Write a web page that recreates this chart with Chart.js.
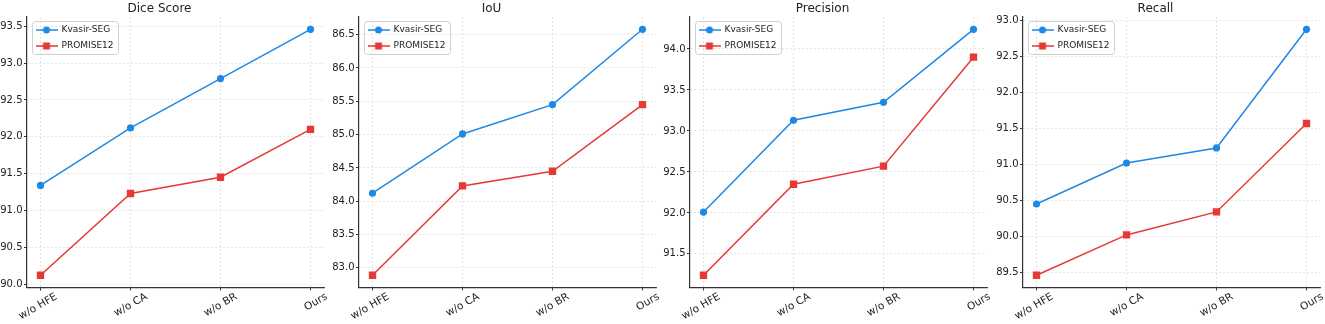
<!DOCTYPE html>
<html>
<head>
<meta charset="utf-8">
<script src="https://cdn.jsdelivr.net/npm/chart.js@4.4.1/dist/chart.umd.min.js"></script>
<style>
  html, body { margin: 0; padding: 0; background: #fff; overflow: hidden; }
  #wrap { position: relative; width: 1325px; height: 324px; }
  canvas { position: absolute; top: 0; }
</style>
</head>
<body>
<div id="wrap"></div>
<script>
const categories = ['w/o HFE', 'w/o CA', 'w/o BR', 'Ours'];
const seriesNames = ['Kvasir-SEG', 'PROMISE12'];
const titles = ['Dice Score', 'IoU', 'Precision', 'Recall'];

const kvasirDice = [91.34, 92.12, 92.79, 93.46];
const promiseDice = [90.12, 91.23, 91.45, 92.10];
const kvasirIoU = [84.12, 85.01, 85.45, 86.58];
const promiseIoU = [82.89, 84.23, 84.45, 85.45];
const kvasirPrecision = [92.01, 93.13, 93.35, 94.24];
const promisePrecision = [91.24, 92.35, 92.57, 93.90];
const kvasirRecall = [90.45, 91.02, 91.23, 92.88];
const promiseRecall = [89.46, 90.02, 90.34, 91.57];

const panels = [
  { title: titles[0], k: kvasirDice, p: promiseDice, plotLeft: 27 },
  { title: titles[1], k: kvasirIoU, p: promiseIoU, plotLeft: 359 },
  { title: titles[2], k: kvasirPrecision, p: promisePrecision, plotLeft: 690 },
  { title: titles[3], k: kvasirRecall, p: promiseRecall, plotLeft: 1023 }
];

const BLUE = '#1e88e5';
const RED = '#e53935';
const FONT = 'DejaVu Sans';
const Y_W = 32, PLOT_W = 297, PAD_R = 6;

// legend handles: short line with the marker in the middle
function handle(color, square) {
  const c = document.createElement('canvas');
  c.width = 22; c.height = 10;
  const g = c.getContext('2d');
  g.strokeStyle = color; g.fillStyle = color; g.lineWidth = 1.5;
  g.beginPath(); g.moveTo(0, 5); g.lineTo(22, 5); g.stroke();
  if (square) g.fillRect(7.5, 1.5, 7, 7);
  else { g.beginPath(); g.arc(11, 5, 3.5, 0, Math.PI * 2); g.fill(); }
  return c;
}
const icons = [handle(BLUE, false), handle(RED, true)];

const legendPlace = {
  id: 'legendPlace',
  afterLayout(chart) {
    const lg = chart.legend, ca = chart.chartArea;
    const w = lg.width, h = lg.height;
    lg.left = ca.left + 2; lg.top = ca.top + 1.5;
    lg.right = lg.left + w; lg.bottom = lg.top + h;
  },
  beforeDraw(chart) {
    const ca = chart.chartArea, g = chart.ctx;
    g.save();
    g.beginPath();
    g.roundRect(ca.left + 5.5, ca.top + 4.5, 86, 33, 3);
    g.fillStyle = 'rgba(255,255,255,0.85)';
    g.fill();
    g.strokeStyle = '#d0d0d0';
    g.lineWidth = 1;
    g.stroke();
    g.restore();
  }
};

panels.forEach((pn) => {
  const cv = document.createElement('canvas');
  cv.width = Y_W + PLOT_W + PAD_R;
  cv.height = 324;
  cv.style.left = (pn.plotLeft - Y_W) + 'px';
  document.getElementById('wrap').appendChild(cv);

  const all = pn.k.concat(pn.p);
  const lo = Math.min(...all), hi = Math.max(...all);
  const m = (hi - lo) * 0.05;

  new Chart(cv, {
    type: 'line',
    data: {
      datasets: [
        {
          label: seriesNames[0],
          data: pn.k.map((v, i) => ({ x: i, y: v })),
          borderColor: BLUE, backgroundColor: BLUE,
          borderWidth: 1.5, pointStyle: 'circle', pointRadius: 3.6,
          pointBorderWidth: 0, tension: 0
        },
        {
          label: seriesNames[1],
          data: pn.p.map((v, i) => ({ x: i, y: v })),
          borderColor: RED, backgroundColor: RED,
          borderWidth: 1.5, pointStyle: 'rect', pointRadius: 5.2,
          pointBorderWidth: 0, tension: 0
        }
      ]
    },
    options: {
      responsive: false,
      animation: false,
      layout: { padding: { left: 0, right: PAD_R, top: 0, bottom: 0 } },
      scales: {
        x: {
          type: 'linear',
          min: -0.15, max: 3.15,
          afterBuildTicks: (s) => { s.ticks = categories.map((c, i) => ({ value: i })); },
          afterFit: (s) => { s.height = 36.5; },
          ticks: {
            callback: (v) => categories[v],
            minRotation: 30, maxRotation: 30,
            autoSkip: false,
            padding: 0,
            color: '#222',
            font: { family: FONT, size: 10.5 },
            labelOffset: 16
          },
          grid: { color: '#dcdcdc', lineWidth: 0.8, tickLength: 3, tickColor: '#333', tickWidth: 1 },
          border: { color: '#333', width: 1.2, dash: [2, 2] }
        },
        y: {
          min: lo - m, max: hi + m,
          afterFit: (s) => { s.width = Y_W; },
          ticks: {
            stepSize: 0.5,
            includeBounds: false,
            padding: 1.5,
            color: '#222',
            font: { family: FONT, size: 10 },
            callback: (v) => v.toFixed(1)
          },
          grid: { color: '#dcdcdc', lineWidth: 0.8, tickLength: 3, tickColor: '#333', tickWidth: 1 },
          border: { color: '#333', width: 1.2, dash: [2, 2] }
        }
      },
      plugins: {
        title: {
          display: true,
          text: pn.title,
          color: '#222',
          font: { family: FONT, size: 12, weight: 'normal' },
          padding: { top: 2, bottom: 0.6 }
        },
        legend: {
          position: 'chartArea',
          align: 'start',
          labels: {
            usePointStyle: true,
            pointStyleWidth: 21,
            boxHeight: 9,
            padding: 7,
            color: '#222',
            font: { family: FONT, size: 9 },
            generateLabels: (chart) => {
              const items = Chart.defaults.plugins.legend.labels.generateLabels(chart);
              items.forEach((it, i) => { it.pointStyle = icons[i]; });
              return items;
            }
          }
        },
        tooltip: { enabled: false }
      }
    },
    plugins: [legendPlace]
  });
});
</script>
</body>
</html>
